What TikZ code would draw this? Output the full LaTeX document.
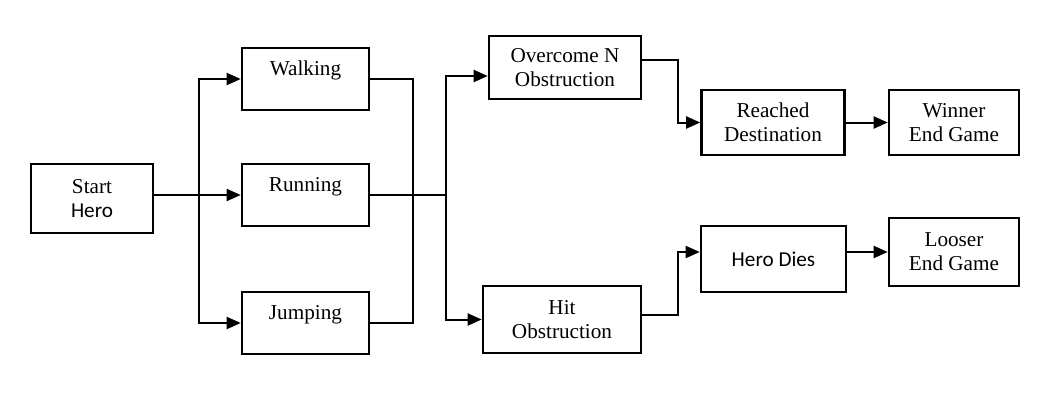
\documentclass[tikz,border=0pt]{standalone}
\usepackage{fontspec}
\setmainfont{Liberation Serif}
\newfontfamily\calibri{Carlito}
\usetikzlibrary{%
	arrows.meta%
}
\tikzstyle{box}=[draw, line width=1.3pt, align=center, inner sep=2pt, font=\fontsize{10.6}{12}\selectfont]
\tikzstyle{raised}=[text height=7.2pt, text depth=10.8pt]
\tikzstyle{line}=[draw, line width=1pt]
\tikzstyle{arrow}=[line, -{Triangle[length=7pt,width=6pt]}]

\begin{document}
\begin{tikzpicture}[x=0.5pt, y=-0.5pt]
				\useasboundingbox[fill=white] (0,0) rectangle (1056,412);
				
				% Boxes
				\node[box, minimum width=61pt, minimum height=34.5pt] (start) at (92,198.5) {Start\\{\calibri Hero}};
				\node[box, raised, minimum width=63.5pt, minimum height=31pt] (walking) at (305.5,79) {Walking};
				\node[box, raised, minimum width=63.5pt, minimum height=31pt] (running) at (305.5,195) {Running};
				\node[box, raised, minimum width=63.5pt, minimum height=31pt] (jumping) at (305.5,323) {Jumping};
				\node[box, minimum width=76pt, minimum height=31.5pt] (overcome) at (565,67.5) {Overcome N\\Obstruction};
				\node[box, minimum width=79pt, minimum height=33.5pt] (hit) at (562,319.5) {Hit\\Obstruction};
				\node[box, minimum width=71.5pt, minimum height=32.5pt] (reached) at (773,122.5) {Reached\\Destination};
				\node[box, minimum width=65pt, minimum height=32.5pt] (winner) at (954,122.5) {Winner\\End Game};
				\node[box, minimum width=72.5pt, minimum height=33pt] (dies) at (773.5,259) {\calibri Hero Dies};
				\node[box, minimum width=65pt, minimum height=34pt] (looser) at (954,252) {Looser\\End Game};
				
				% Junction points
				\coordinate (fork) at (199,195);
				\coordinate (merge) at (413,195);
				\coordinate (split) at (446,195);
				\coordinate (win) at (678,90);
				\coordinate (lose) at (678,280);
				
				\draw[arrow, line width=0.8pt] (start.east |- running) -- (running);
				\draw[arrow] (fork) |- (walking);
				\draw[arrow] (fork) |- (jumping);
				\draw[line] (walking.east) -| (merge) |- (jumping.east);
				\draw[line, line width=0.7pt] (running.east) -- (split);
				\draw[arrow] (split) |- ([yshift=-4.25pt]overcome.west);
				\draw[arrow] (split) |- (hit);
				\draw[arrow] ([yshift=3.75pt]overcome.east) -| (win) |- (reached);
				\draw[arrow] ([yshift=2.25pt]hit.east) -| (lose) |- (dies.west |- looser);
				\draw[arrow] (reached) -- (winner);
				\draw[arrow] (dies.east |- looser) -- (looser);
			\end{tikzpicture}
\end{document}
